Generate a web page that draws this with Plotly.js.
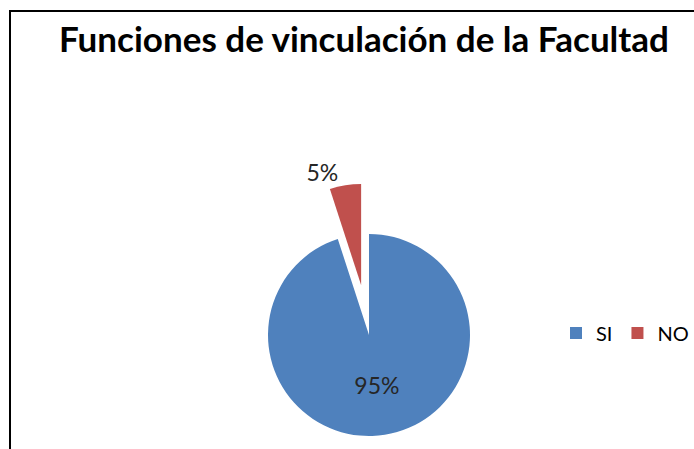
<!DOCTYPE html>
<html>
<head>
<meta charset="utf-8">
<script src="https://cdn.plot.ly/plotly-3.0.1.min.js"></script>
<style>
html,body{margin:0;padding:0;overflow:hidden;background:#fff;width:694px;height:449px;}
#chart{width:694px;height:500px;}
</style>
</head>
<body>
<div id="chart"></div>
<script>
const categories = ["SI", "NO"];
const values = [95, 5];
const colors = ["#4F81BD", "#C0504D"];
const pulls = [0, 0.5];
const textPositions = ["inside", "outside"];
const chartTitle = "Funciones de vinculación de la Facultad";

const W = 694, H = 500;
const labelFont = {family: "Lato, 'Open Sans', sans-serif", size: 23, color: "#262626"};
const data = [{
  type: "pie",
  labels: categories,
  values: values,
  sort: false,
  direction: "clockwise",
  rotation: 0,
  pull: pulls,
  marker: {colors: colors, line: {width: 0}},
  textinfo: "percent",
  textposition: textPositions,
  insidetextorientation: "horizontal",
  textfont: labelFont,
  outsidetextfont: labelFont,
  insidetextfont: labelFont,
  hoverinfo: "label+percent",
  domain: {x: [217.5 / W, 520.5 / W], y: [(H - 486.5) / H, (H - 183.5) / H]},
  automargin: false
}];

const layout = {
  width: W,
  height: H,
  margin: {l: 0, r: 0, t: 0, b: 0, autoexpand: false},
  paper_bgcolor: "#ffffff",
  title: {
    text: "<b>" + chartTitle + "</b>",
    font: {family: "Lato, 'Open Sans', sans-serif", size: 35, color: "#000000"},
    x: 364 / W, xanchor: "center",
    y: 1 - 40 / H, yanchor: "middle",
    xref: "paper", yref: "paper"
  },
  showlegend: true,
  legend: {
    orientation: "h",
    x: 556 / W, xanchor: "left",
    y: 1 - 333 / H, yanchor: "middle",
    font: {family: "Lato, 'Open Sans', sans-serif", size: 20, color: "#000000"},
    itemwidth: 30,
    traceorder: "normal"
  },
  shapes: [{
    type: "path",
    xref: "paper", yref: "paper",
    path: "M " + (10 / W) + " 0 L " + (10 / W) + " " + (1 - 11 / H) + " L 1 " + (1 - 11 / H),
    line: {color: "#000000", width: 2}
  }]
};

Plotly.newPlot("chart", data, layout, {displayModeBar: false, staticPlot: true});
</script>
</body>
</html>
